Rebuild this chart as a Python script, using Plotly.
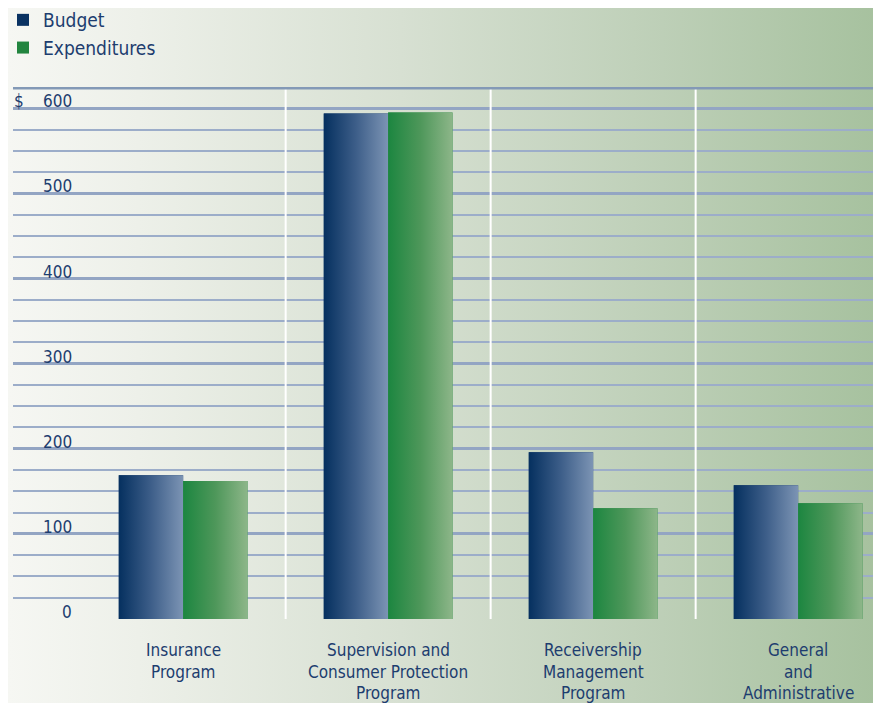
import plotly.graph_objects as go

# ---- data ----
categories = ["Insurance<br>Program",
              "Supervision and<br>Consumer Protection<br>Program",
              "Receivership<br>Management<br>Program",
              "General<br>and<br>Administrative"]
budget = [169, 594, 196, 157]
expenditures = [162, 595, 130, 136]
series_names = ["Budget", "Expenditures"]
ytick_vals = [0, 100, 200, 300, 400, 500, 600]
ytick_text = ["0", "100", "200", "300", "400", "500", "600"]

# ---- style ----
S = 8                                   # page body margin compensation
W, H = 881 - S, 703 - S                 # figure fits inside the window
PL, PT, PB = 13 - S, 87 - S, 619 - S    # plot area pixels (paper coords)
FONT = "DejaVu Sans Condensed, Liberation Sans Narrow, Roboto, sans-serif"
NAVY = "#1d3d6f"
PXU = 205.0                             # pixels per category unit
XMIN = -0.83
XMAX = XMIN + (W - PL) / PXU
YMAX = 625
BW = 0.314
solid = ["#0a3262", "#22853f"]
grads = [[[0, "#05305f"], [0.5, "#3d5e89"], [1, "#7c94b4"]],
         [[0, "#1c8640"], [0.5, "#4e975a"], [1, "#8db689"]]]

fig = go.Figure()

# background gradient on a full-page subplot
fig.add_trace(go.Scatter(
    x=[0, 1, 1, 0, 0], y=[0, 0, 1, 1, 0], mode="lines", fill="toself",
    line=dict(width=0), hoverinfo="skip", showlegend=False,
    fillgradient=dict(type="horizontal",
                      colorscale=[[0, "#f6f7f3"], [0.15, "#edf0e9"],
                                  [0.45, "#d7e0d2"], [0.75, "#bdcfb7"],
                                  [1, "#a6c19e"]]),
    xaxis="x", yaxis="y"))

xs = list(range(len(categories)))
for s, (name, vals) in enumerate(zip(series_names, [budget, expenditures])):
    off = -BW if s == 0 else 0
    fig.add_trace(go.Bar(
        x=xs, y=vals, name=name, width=BW, offset=off,
        marker=dict(color=solid[s], line=dict(width=0)),
        xaxis="x2", yaxis="y2"))
    for i, v in zip(xs, vals):
        x0, x1 = i + off, i + off + BW
        fig.add_trace(go.Scatter(
            x=[x0, x1, x1, x0, x0], y=[0, 0, v, v, 0], mode="lines",
            fill="toself", line=dict(width=0), hoverinfo="skip",
            showlegend=False,
            fillgradient=dict(type="horizontal", colorscale=grads[s]),
            xaxis="x2", yaxis="y2"))

shapes = []
# vertical separators
for i in range(len(categories) - 1):
    shapes.append(dict(type="line", xref="x2", yref="y2", x0=i + 0.5, x1=i + 0.5,
                       y0=0, y1=YMAX, line=dict(color="white", width=2)))
# thick top line & bottom axis bar
shapes.append(dict(type="rect", xref="paper", yref="y2", ysizemode="pixel",
                   yanchor=YMAX, y0=-2.5, y1=2.5, x0=PL / W, x1=1,
                   fillcolor="#8399b6", line=dict(width=0)))
shapes.append(dict(type="rect", xref="paper", yref="y2", ysizemode="pixel",
                   yanchor=0, y0=-8, y1=0, x0=PL / W, x1=1,
                   fillcolor="#8298b6", line=dict(width=0)))

annotations = []
for v, t in zip(ytick_vals, ytick_text):
    annotations.append(dict(xref="paper", yref="y2", x=(74 - S) / W, y=v,
                            xanchor="right", yanchor="bottom", yshift=-5,
                            text=t, showarrow=False,
                            font=dict(family=FONT, size=17, color=NAVY)))
annotations.append(dict(xref="paper", yref="y2", x=(12 - S) / W, y=ytick_vals[-1],
                        xanchor="left", yanchor="bottom", yshift=-5,
                        text="$", showarrow=False,
                        font=dict(family=FONT, size=17, color=NAVY)))
for i, lab in enumerate(categories):
    for k, line in enumerate(lab.split("<br>")):
        annotations.append(dict(xref="x2", yref="y2", x=i, y=0,
                                xanchor="center", yanchor="top",
                                yshift=-19 - 21.5 * k, text=line,
                                showarrow=False,
                                font=dict(family=FONT, size=17, color=NAVY)))

fig.update_layout(
    width=W, height=H, margin=dict(l=0, r=0, t=0, b=0, autoexpand=False),
    paper_bgcolor="#f6f7f3", plot_bgcolor="rgba(0,0,0,0)",
    barmode="overlay", showlegend=True,
    legend=dict(x=-5 / W, y=1 + 7 / H, xanchor="left", yanchor="top",
                bgcolor="rgba(0,0,0,0)",
                font=dict(family=FONT, size=19, color=NAVY),
                tracegroupgap=0),
    xaxis=dict(domain=[0, 1], range=[0, 1], visible=False, fixedrange=True),
    yaxis=dict(domain=[0, 1], range=[0, 1], visible=False, fixedrange=True),
    xaxis2=dict(domain=[PL / W, 1], range=[XMIN, XMAX], anchor="y2",
                showgrid=False, zeroline=False, showticklabels=False,
                showline=False),
    yaxis2=dict(domain=[(H - PB) / H, (H - PT) / H], range=[0, YMAX],
                anchor="x2", showticklabels=False, zeroline=False,
                showgrid=True, dtick=100, gridcolor="#93a5c3", gridwidth=3,
                minor=dict(dtick=25, showgrid=True, gridcolor="#9cadc9",
                           gridwidth=2)),
    shapes=shapes, annotations=annotations,
)

fig.write_html("out.html")
